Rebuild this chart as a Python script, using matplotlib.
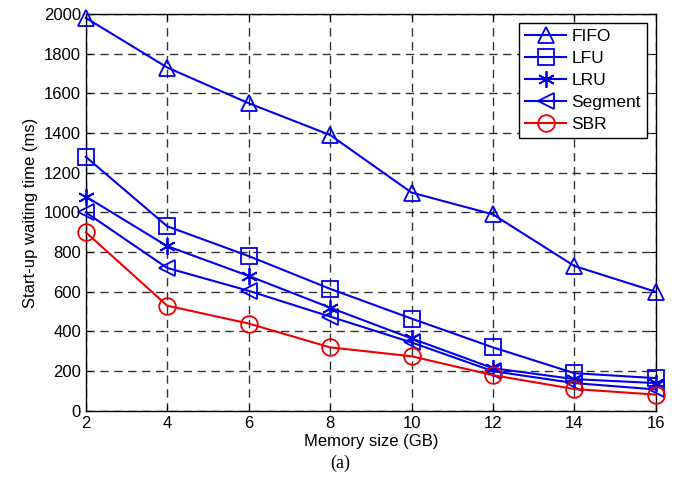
import numpy as np
import matplotlib.pyplot as plt

# Memory size (GB)
memory = [2, 4, 6, 8, 10, 12, 14, 16]

# Start-up waiting time (ms) per policy
fifo = [1980, 1730, 1550, 1390, 1100, 990, 730, 600]
lfu = [1280, 930, 780, 615, 465, 320, 190, 165]
lru = [1080, 830, 680, 520, 365, 215, 160, 140]
segment = [1000, 720, 605, 475, 345, 200, 140, 108]
sbr = [900, 530, 440, 320, 275, 180, 110, 82]

plt.rcParams['font.family'] = ['Liberation Sans', 'DejaVu Sans']

fig = plt.figure(figsize=(6.81, 4.8), dpi=100)
ax = fig.add_axes([0.126, 0.144, 0.837, 0.827])

style = dict(linewidth=1.5, markersize=12, markerfacecolor='none',
             markeredgewidth=1.3, clip_on=False, zorder=3)
ax.plot(memory, fifo, color='#0000ee', marker='^', label='FIFO', **style)
ax.plot(memory, lfu, color='#0000ee', marker='s', label='LFU', **style)
ax.plot(memory, lru, color='#0000ee', marker=(6, 2, 0), label='LRU', **style)
ax.plot(memory, segment, color='#0000ee', marker='<', label='Segment', **style)
ax.plot(memory, sbr, color='#ee0000', marker='o', label='SBR', **style)

ax.set_xlim(2, 16)
ax.set_ylim(0, 2000)
ax.set_xticks(memory)
ax.set_yticks(np.arange(0, 2001, 200))
ax.tick_params(direction='in', labelsize=12, length=4, top=True, right=True)
ax.grid(True, color='black', linestyle=(0, (6, 4)), linewidth=1.0, alpha=0.8)
for s in ax.spines.values():
    s.set_linewidth(1.0)

ax.set_xlabel('Memory size (GB)', fontsize=12, labelpad=2)
ax.set_ylabel('Start-up waiting time (ms)', fontsize=12)

leg = ax.legend(loc='upper right', fontsize=12.5, frameon=True, fancybox=False,
                edgecolor='black', framealpha=1, borderaxespad=0.5,
                handlelength=2.4, labelspacing=0.4, borderpad=0.35, handletextpad=0.3)
leg.get_frame().set_linewidth(1.0)

fig.text(0.5, 0.025, '(a)', ha='center', fontsize=13, family='Liberation Serif')

fig.savefig('out.png', dpi=100)
